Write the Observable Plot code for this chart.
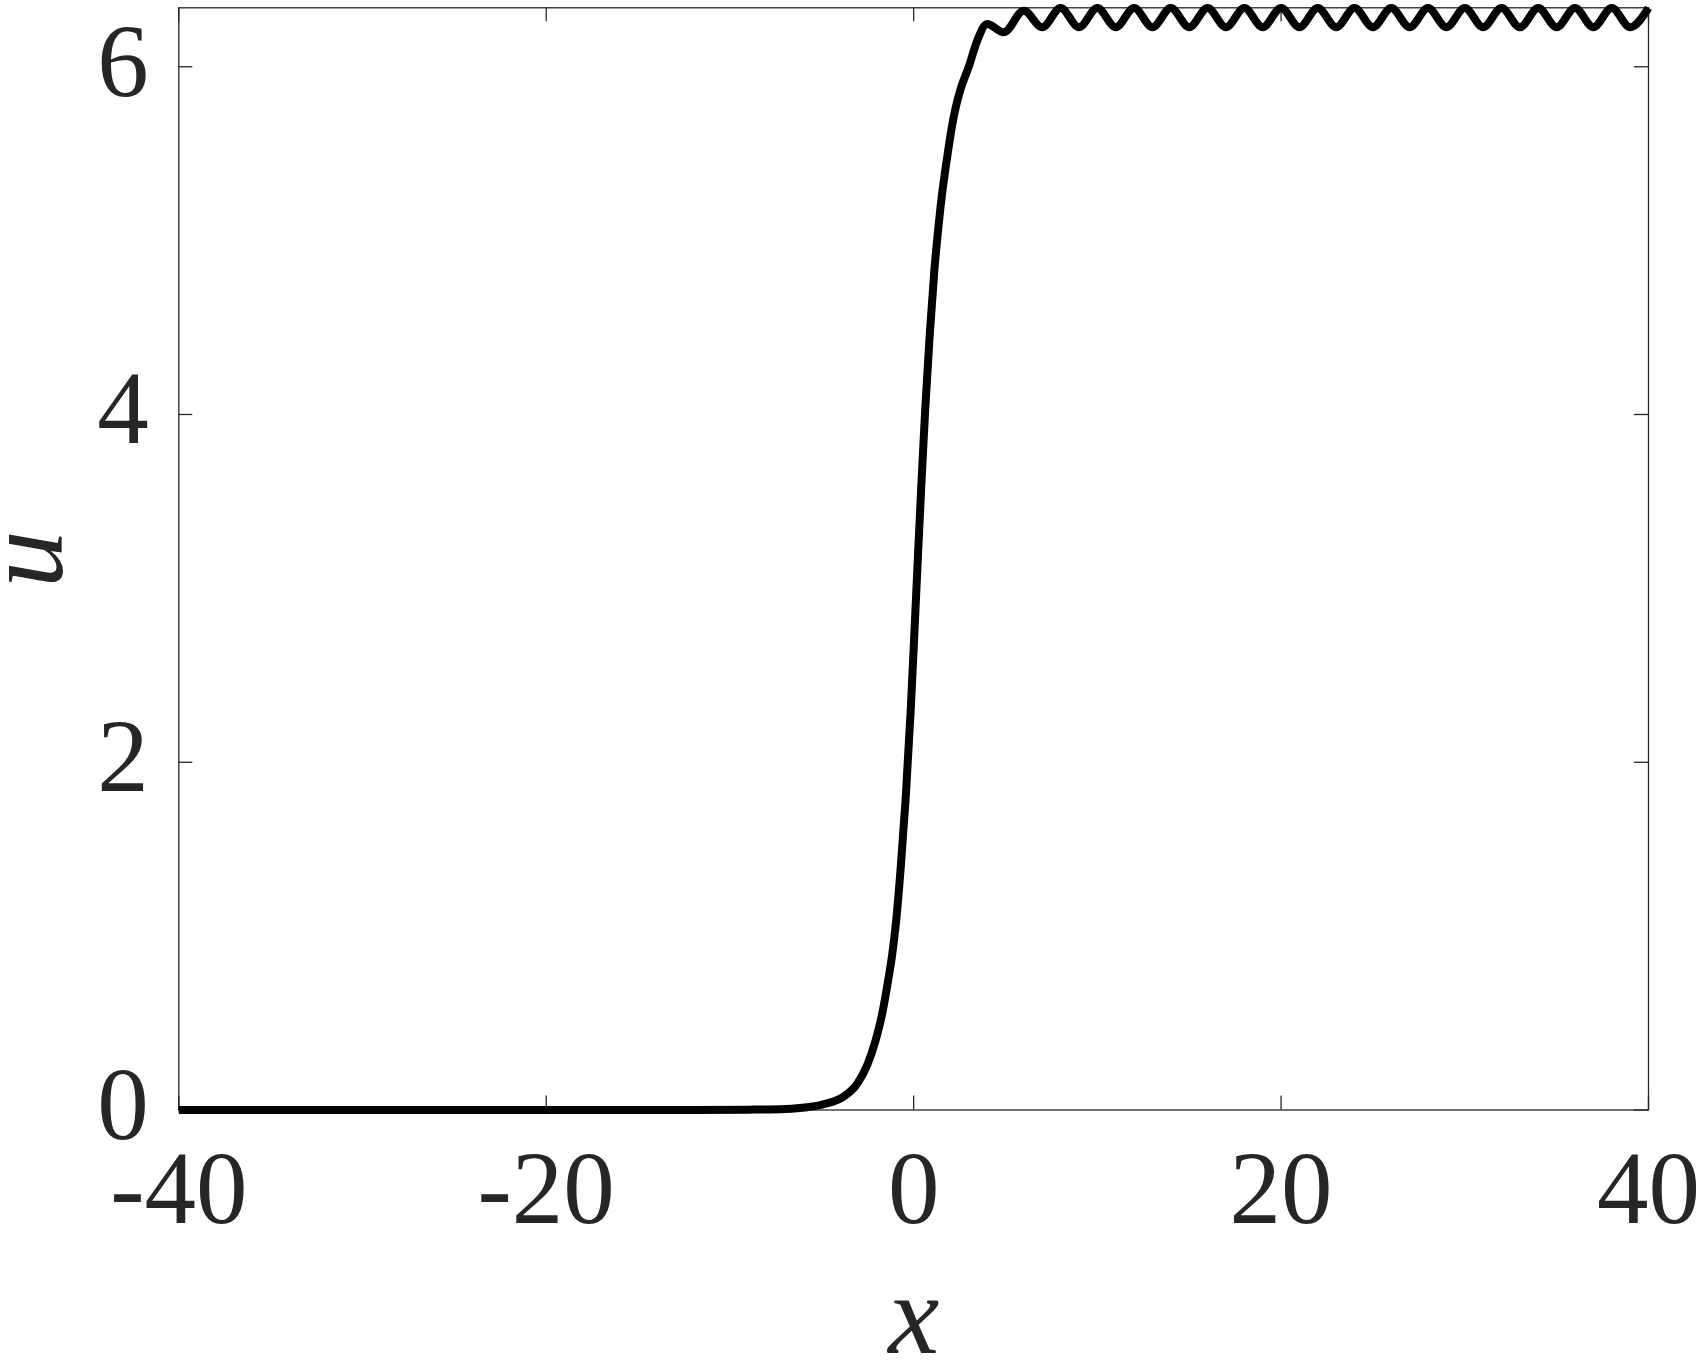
<!DOCTYPE html>
<html>
<head>
<meta charset="utf-8">
<script src="https://cdn.jsdelivr.net/npm/d3@7"></script>
<script src="https://cdn.jsdelivr.net/npm/@observablehq/plot@0.6"></script>
<style>
  html, body { margin: 0; padding: 0; background: #ffffff; }
  #chart { width: 1699px; height: 1361px; }
</style>
</head>
<body>
<div id="chart"></div>
<script>
// ---- data ----
const xValues = [
  -40, -20, -12, -9, -7, -5.8, -4.8, -3.8, -3.08, -2.52,
  -2.07, -1.7, -1.43, -1.16, -0.97, -0.7, -0.43, -0.16, 0.03, 0.24,
  0.44, 0.63, 0.87, 1.12, 1.47, 1.91, 2.09, 2.3, 2.55, 3.0,
  3.46, 4.0, 4.9,
  6, 7, 8, 9, 10, 11, 12, 13, 14, 15, 16, 17, 18, 19, 20, 21, 22, 23,
  24, 25, 26, 27, 28, 29, 30, 31, 32, 33, 34, 35, 36, 37, 38, 39, 40
];
const uValues = [
  0, 0, 0, 0.002, 0.006, 0.016, 0.036, 0.078, 0.15, 0.26,
  0.40, 0.56, 0.72, 0.9, 1.07, 1.4, 1.8, 2.3, 2.72, 3.2,
  3.64, 4.03, 4.45, 4.82, 5.2, 5.54, 5.66, 5.77, 5.87, 6.0,
  6.15, 6.246, 6.198,
  6.322, 6.227, 6.338, 6.227, 6.338, 6.227, 6.338, 6.227, 6.338, 6.227,
  6.338, 6.227, 6.338, 6.227, 6.338, 6.227, 6.338, 6.227, 6.338, 6.227,
  6.338, 6.227, 6.338, 6.227, 6.338, 6.227, 6.338, 6.227, 6.338, 6.227,
  6.338, 6.227, 6.338, 6.227, 6.338
];
const xTicks = [-40, -20, 0, 20, 40];
const yTicks = [0, 2, 4, 6];
const xLabel = "x";
const yLabel = "u";

// ---- layout ----
const W = 1699, H = 1361;
const mL = 178.3, mR = 51, mT = 7.3, mB = 251.5;
const frameW = W - mL - mR, frameH = H - mT - mB;
const tickLen = 14;
const ink = "#262626";
const serif = '"Liberation Serif", "Times New Roman", serif';
const fmt = d => (d < 0 ? "-" + (-d) : String(d));

const data = xValues.map((x, i) => ({x, u: uValues[i]}));

const chart = Plot.plot({
  width: W,
  height: H,
  marginLeft: mL,
  marginRight: mR,
  marginTop: mT,
  marginBottom: mB,
  style: {background: "#ffffff", color: ink, overflow: "visible"},
  x: {domain: [-40, 40]},
  y: {domain: [0, 6.339]},
  marks: [
    Plot.frame({stroke: ink, strokeWidth: 1.3}),
    // inward ticks on all four sides
    Plot.tickX(xTicks, {x: d => d, stroke: ink, strokeWidth: 1.3, insetTop: frameH - tickLen}),
    Plot.tickX(xTicks, {x: d => d, stroke: ink, strokeWidth: 1.3, insetBottom: frameH - tickLen}),
    Plot.tickY(yTicks, {y: d => d, stroke: ink, strokeWidth: 1.3, insetRight: frameW - tickLen}),
    Plot.tickY(yTicks, {y: d => d, stroke: ink, strokeWidth: 1.3, insetLeft: frameW - tickLen}),
    // tick labels
    Plot.axisX(xTicks, {anchor: "bottom", tickSize: 0, tickPadding: 40, fontSize: 103,
      fill: ink, tickFormat: fmt, label: null}),
    Plot.axisY(yTicks, {anchor: "left", tickSize: 0, tickPadding: 30, fontSize: 103,
      fill: ink, tickFormat: fmt, label: null, dy: -4}),
    // axis titles
    Plot.text([xLabel], {text: d => d, frameAnchor: "bottom", textAnchor: "middle", dy: 243, fontSize: 115,
      fontStyle: "italic", fill: ink}),
    Plot.text([yLabel], {text: d => d, frameAnchor: "left", textAnchor: "middle", dx: -154, rotate: -90, fontSize: 115,
      fontStyle: "italic", fill: ink}),
    // the curve
    Plot.line(data, {x: "x", y: "u", stroke: "#000000", strokeWidth: 8,
      curve: "monotone-x", strokeLinejoin: "round", strokeLinecap: "butt", clip: false})
  ]
});
d3.select(chart).selectAll("text").style("font-family", serif);
document.getElementById("chart").appendChild(chart);
</script>
</body>
</html>
